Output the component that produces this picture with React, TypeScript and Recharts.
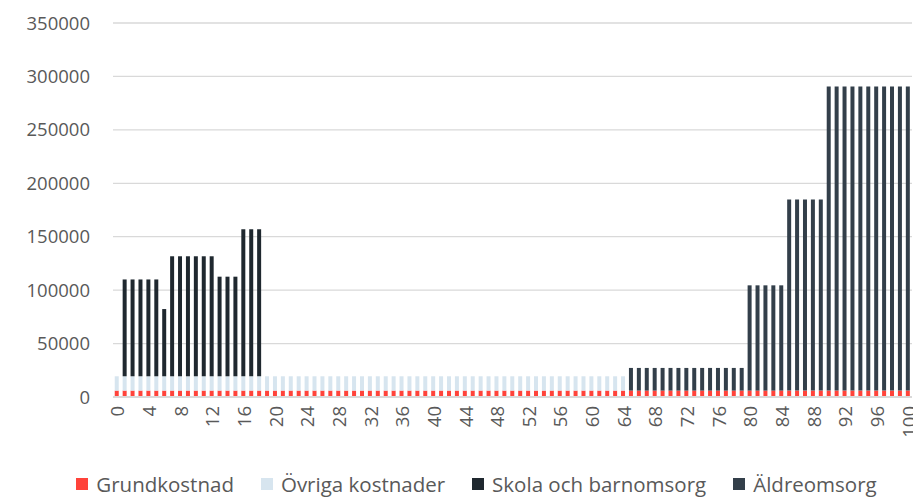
import React from "react";
import { Bar, BarChart, CartesianGrid, XAxis, YAxis } from "recharts";

const ages = [
  0, 1, 2, 3, 4, 5, 6, 7, 8, 9,
  10, 11, 12, 13, 14, 15, 16, 17, 18, 19,
  20, 21, 22, 23, 24, 25, 26, 27, 28, 29,
  30, 31, 32, 33, 34, 35, 36, 37, 38, 39,
  40, 41, 42, 43, 44, 45, 46, 47, 48, 49,
  50, 51, 52, 53, 54, 55, 56, 57, 58, 59,
  60, 61, 62, 63, 64, 65, 66, 67, 68, 69,
  70, 71, 72, 73, 74, 75, 76, 77, 78, 79,
  80, 81, 82, 83, 84, 85, 86, 87, 88, 89,
  90, 91, 92, 93, 94, 95, 96, 97, 98, 99,
  100,
];

const grundkostnad = [
  6000, 6000, 6000, 6000, 6000, 6000, 6000, 6000, 6000, 6000,
  6000, 6000, 6000, 6000, 6000, 6000, 6000, 6000, 6000, 6000,
  6000, 6000, 6000, 6000, 6000, 6000, 6000, 6000, 6000, 6000,
  6000, 6000, 6000, 6000, 6000, 6000, 6000, 6000, 6000, 6000,
  6000, 6000, 6000, 6000, 6000, 6000, 6000, 6000, 6000, 6000,
  6000, 6000, 6000, 6000, 6000, 6000, 6000, 6000, 6000, 6000,
  6000, 6000, 6000, 6000, 6000, 6000, 6000, 6000, 6000, 6000,
  6000, 6000, 6000, 6000, 6000, 6000, 6000, 6000, 6000, 6000,
  6000, 6000, 6000, 6000, 6000, 6000, 6000, 6000, 6000, 6000,
  6000, 6000, 6000, 6000, 6000, 6000, 6000, 6000, 6000, 6000,
  6000,
];

const ovrigaKostnader = [
  13400, 13400, 13400, 13400, 13400, 13400, 13400, 13400, 13400, 13400,
  13400, 13400, 13400, 13400, 13400, 13400, 13400, 13400, 13400, 13400,
  13400, 13400, 13400, 13400, 13400, 13400, 13400, 13400, 13400, 13400,
  13400, 13400, 13400, 13400, 13400, 13400, 13400, 13400, 13400, 13400,
  13400, 13400, 13400, 13400, 13400, 13400, 13400, 13400, 13400, 13400,
  13400, 13400, 13400, 13400, 13400, 13400, 13400, 13400, 13400, 13400,
  13400, 13400, 13400, 13400, 13400, 0, 0, 0, 0, 0,
  0, 0, 0, 0, 0, 0, 0, 0, 0, 0,
  0, 0, 0, 0, 0, 0, 0, 0, 0, 0,
  0, 0, 0, 0, 0, 0, 0, 0, 0, 0,
  0,
];

const skolaBarnomsorg = [
  0, 90600, 90600, 90600, 90600, 90600, 62900, 112300, 112300, 112300,
  112300, 112300, 112300, 93200, 93200, 93200, 137600, 137600, 137600, 0,
  0, 0, 0, 0, 0, 0, 0, 0, 0, 0,
  0, 0, 0, 0, 0, 0, 0, 0, 0, 0,
  0, 0, 0, 0, 0, 0, 0, 0, 0, 0,
  0, 0, 0, 0, 0, 0, 0, 0, 0, 0,
  0, 0, 0, 0, 0, 0, 0, 0, 0, 0,
  0, 0, 0, 0, 0, 0, 0, 0, 0, 0,
  0, 0, 0, 0, 0, 0, 0, 0, 0, 0,
  0, 0, 0, 0, 0, 0, 0, 0, 0, 0,
  0,
];

const aldreomsorg = [
  0, 0, 0, 0, 0, 0, 0, 0, 0, 0,
  0, 0, 0, 0, 0, 0, 0, 0, 0, 0,
  0, 0, 0, 0, 0, 0, 0, 0, 0, 0,
  0, 0, 0, 0, 0, 0, 0, 0, 0, 0,
  0, 0, 0, 0, 0, 0, 0, 0, 0, 0,
  0, 0, 0, 0, 0, 0, 0, 0, 0, 0,
  0, 0, 0, 0, 0, 21200, 21200, 21200, 21200, 21200,
  21200, 21200, 21200, 21200, 21200, 21200, 21200, 21200, 21200, 21200,
  98500, 98500, 98500, 98500, 98500, 178900, 178900, 178900, 178900, 178900,
  284600, 284600, 284600, 284600, 284600, 284600, 284600, 284600, 284600, 284600,
  284600,
];

const yTicks = [0, 50000, 100000, 150000, 200000, 250000, 300000, 350000];

const series = [
  { key: "grund", name: "Grundkostnad", color: "#FF433A" },
  { key: "ovriga", name: "Övriga kostnader", color: "#D7E5EF" },
  { key: "skola", name: "Skola och barnomsorg", color: "#1F282F" },
  { key: "aldre", name: "Äldreomsorg", color: "#333F4A" },
];

const data = ages.map((age, i) => ({
  age,
  grund: grundkostnad[i],
  ovriga: ovrigaKostnader[i],
  skola: skolaBarnomsorg[i],
  aldre: aldreomsorg[i],
}));

const FONT = "'Open Sans', sans-serif";
const TEXT = "#595959";

function AgeTick({ x, y, payload }: any) {
  return (
    <text
      x={0}
      y={0}
      transform={`translate(${x},${y + 1}) rotate(-90)`}
      textAnchor="end"
      dominantBaseline="central"
      fill={TEXT}
      fontSize={18.5}
      fontFamily={FONT}
    >
      {payload.value}
    </text>
  );
}

export default function App() {
  return (
    <div style={{ position: "relative", width: 913, height: 491, fontFamily: FONT }}>
      <BarChart
        width={913}
        height={491}
        data={data}
        margin={{ top: 15, right: 9, left: 0, bottom: 52 }}
        barCategoryGap="22%"
      >
        <CartesianGrid vertical={false} stroke="#D9D9D9" strokeWidth={1.3} />
        <XAxis
          dataKey="age"
          interval={3}
          height={50}
          tickLine={false}
          axisLine={{ stroke: "#D9D9D9", strokeWidth: 2 }}
          tick={<AgeTick />}
        />
        <YAxis
          width={105}
          domain={[0, 350000]}
          ticks={yTicks}
          axisLine={false}
          tickLine={false}
          tickSize={15}
          tickMargin={8}
          tick={{ fontSize: 18.5, fill: TEXT, fontFamily: FONT }}
        />
        {series.map((s) => (
          <Bar key={s.key} dataKey={s.key} name={s.name} stackId="a" fill={s.color} isAnimationActive={false} />
        ))}
      </BarChart>
      <div
        style={{
          position: "absolute",
          top: 465,
          left: 0,
          width: 913,
          height: 22,
          paddingLeft: 24,
          boxSizing: "border-box",
          display: "flex",
          justifyContent: "center",
          alignItems: "center",
          gap: 27,
          fontSize: 20.5,
          color: TEXT,
          lineHeight: "22px",
          whiteSpace: "nowrap",
        }}
      >
        {series.map((s) => (
          <div key={s.key} style={{ display: "flex", alignItems: "center" }}>
            <span style={{ width: 12, height: 12, background: s.color, marginRight: 8, display: "inline-block" }} />
            <span>{s.name}</span>
          </div>
        ))}
      </div>
    </div>
  );
}
